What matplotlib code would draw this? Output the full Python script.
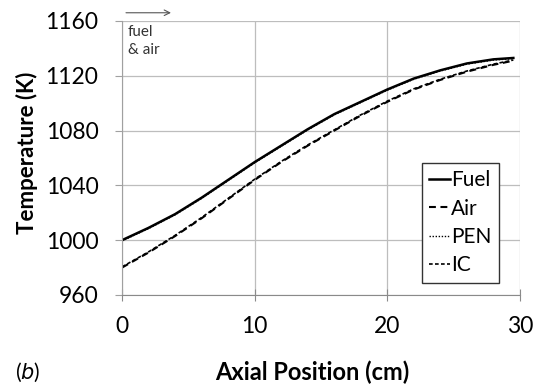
import matplotlib.pyplot as plt

plt.rcParams["font.family"] = ["Lato", "DejaVu Sans"]

# axial temperature profiles along the cell (cm, K)
position = [0, 2, 4, 6, 8, 10, 12, 14, 16, 18, 20, 22, 24, 26, 28, 29.5]
fuel = [1000, 1009, 1019, 1031, 1044, 1057, 1069, 1081, 1092, 1101, 1110, 1118, 1124, 1129, 1132, 1133]
air = [980, 991, 1003, 1016, 1030, 1044, 1057, 1069, 1080, 1091, 1101, 1110, 1117, 1123, 1128, 1131]
pen = [999.5, 1008.5, 1018.5, 1030.5, 1043.5, 1056.5, 1068.5, 1080.5, 1091.5, 1100.5, 1109.5, 1117.5, 1123.5, 1128.5, 1131.5, 1132.5]
ic = [980.5, 991.5, 1003.5, 1016.5, 1030.5, 1044.5, 1057.5, 1069.5, 1080.5, 1091.5, 1101.5, 1110.5, 1117.5, 1123.5, 1128.5, 1131.5]

x_ticks = [0, 10, 20, 30]
y_ticks = [960, 1000, 1040, 1080, 1120, 1160]

fig = plt.figure(figsize=(5.38, 3.9), dpi=100)
ax = fig.add_axes([0.2268, 0.2436, 0.7397, 0.7026])

ax.plot(position, fuel, color="black", lw=1.8, label="Fuel")
ax.plot(position, air, color="black", lw=1.5, ls=(0, (3.3, 2.2)), label="Air")
ax.plot(position, pen, color="black", lw=1.0, ls=(0, (1, 1.2)), label="PEN")
ax.plot(position, ic, color="black", lw=1.2, ls=(0, (2.2, 1.4)), label="IC")

ax.set_xlim(0, 30)
ax.set_ylim(960, 1160)
ax.set_xticks(x_ticks)
ax.set_yticks(y_ticks)
ax.grid(True, color="#bdbdbd", lw=0.9)
ax.set_axisbelow(True)
for side in ["top", "right"]:
    ax.spines[side].set_visible(False)
ax.spines["left"].set_color("#a0a0a0")
ax.spines["bottom"].set_color("#8a8a8a")
ax.tick_params(axis="x", direction="inout", length=8, color="#8a8a8a", labelsize=16.5, pad=11)
ax.tick_params(axis="y", direction="out", length=5, color="#a0a0a0", labelsize=16.5, pad=12)

ax.set_xlabel("Axial Position (cm)", fontsize=17, fontweight="bold")
ax.set_ylabel("Temperature (K)", fontsize=16, fontweight="bold")
ax.xaxis.label.set_va("center")
ax.yaxis.label.set_va("center")
ax.xaxis.set_label_coords(0.477, -0.281)
ax.yaxis.set_label_coords(-0.24, 0.52)
fig.text(0.028, 0.046, r"($\mathit{b}$)", fontsize=15, va="center")

# flow direction marker
ax.annotate("", xy=(0.13, 1.03), xytext=(0.003, 1.03), xycoords="axes fraction",
            arrowprops=dict(arrowstyle="->", color="#555555", lw=0.8), annotation_clip=False)
ax.text(0.014, 0.985, "fuel\n& air", transform=ax.transAxes, fontsize=11,
        color="#333333", va="top", ha="left", linespacing=1.35)

leg = ax.legend(loc="upper right", bbox_to_anchor=(0.947, 0.482), borderaxespad=0,
                fontsize=15, handlelength=1.0, handletextpad=0.05, labelspacing=0.4,
                fancybox=False, framealpha=1, edgecolor="#333333", borderpad=0.35)
leg.get_frame().set_linewidth(1.0)

fig.savefig("out.png", dpi=100)
